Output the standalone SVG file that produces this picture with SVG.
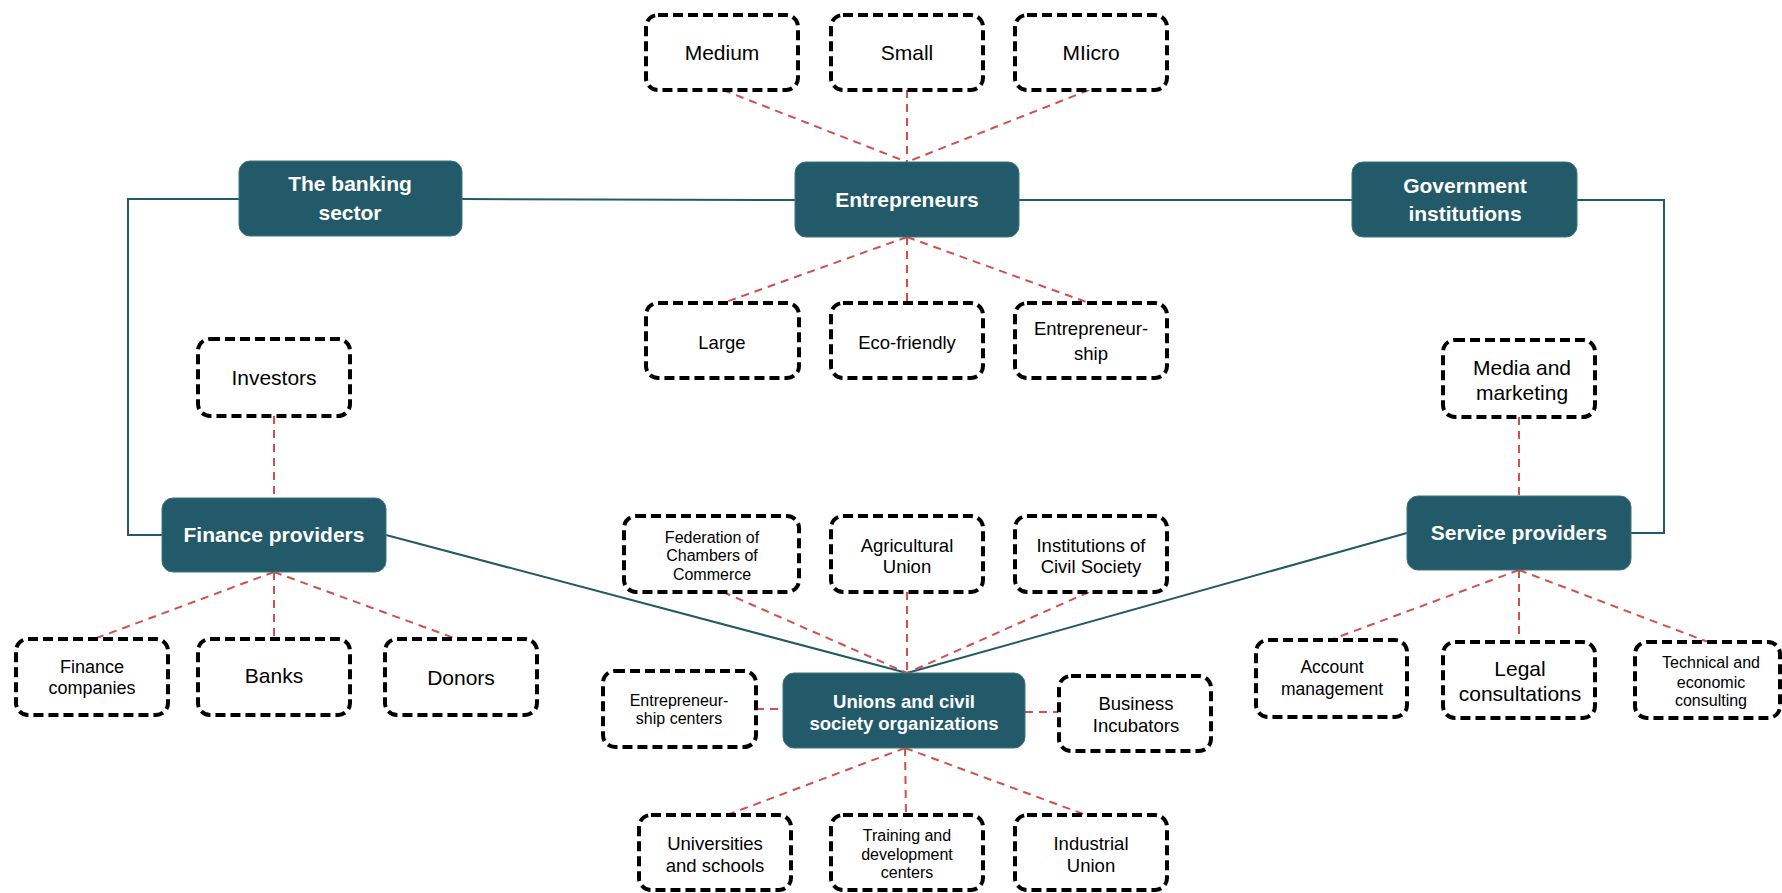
<svg xmlns="http://www.w3.org/2000/svg" width="1782" height="893" viewBox="0 0 1782 893">
<style>
.bg{fill:#ffffff}
.hub rect{fill:#235a69;stroke:#3d7482;stroke-width:1}
.hub text{fill:#ffffff;font-family:"Liberation Sans",Arial,sans-serif;font-weight:bold;text-anchor:middle;dominant-baseline:central}
.leaf rect{fill:#ffffff;stroke:#000000;stroke-width:4;stroke-dasharray:10 5}
.leaf text{fill:#000000;font-family:"Liberation Sans",Arial,sans-serif;text-anchor:middle;dominant-baseline:central}
.solid{fill:none;stroke:#235a69;stroke-width:2}
.dash{fill:none;stroke:#d0504c;stroke-width:2;stroke-dasharray:8 6}
</style>
<rect class="bg" x="0" y="0" width="1782" height="893"/>
<g id="connectors">
  <polyline class="solid" points="462,199 795,200"/>
  <polyline class="solid" points="1019,200 1352,200"/>
  <polyline class="solid" points="239,199 128,199 128,535 162,535"/>
  <polyline class="solid" points="1577,200 1664,200 1664,533 1631,533"/>
  <line class="solid" x1="386" y1="535" x2="907" y2="673"/>
  <line class="solid" x1="1407" y1="533" x2="907" y2="673"/>
  <line class="dash" x1="723" y1="90" x2="907" y2="162"/>
  <line class="dash" x1="907" y1="90" x2="907" y2="162"/>
  <line class="dash" x1="1089" y1="90" x2="907" y2="162"/>
  <line class="dash" x1="907" y1="237" x2="723" y2="303"/>
  <line class="dash" x1="907" y1="237" x2="907" y2="303"/>
  <line class="dash" x1="907" y1="237" x2="1089" y2="303"/>
  <line class="dash" x1="274" y1="416" x2="274" y2="498"/>
  <line class="dash" x1="274" y1="572" x2="94" y2="639"/>
  <line class="dash" x1="274" y1="572" x2="274" y2="639"/>
  <line class="dash" x1="274" y1="572" x2="457" y2="639"/>
  <line class="dash" x1="1519" y1="417" x2="1519" y2="496"/>
  <line class="dash" x1="1519" y1="570" x2="1330" y2="640"/>
  <line class="dash" x1="1519" y1="570" x2="1519" y2="642"/>
  <line class="dash" x1="1519" y1="570" x2="1708" y2="642"/>
  <line class="dash" x1="723" y1="592" x2="907" y2="673"/>
  <line class="dash" x1="907" y1="592" x2="907" y2="673"/>
  <line class="dash" x1="1089" y1="592" x2="907" y2="673"/>
  <line class="dash" x1="905" y1="748" x2="727" y2="815"/>
  <line class="dash" x1="905" y1="748" x2="906" y2="815"/>
  <line class="dash" x1="905" y1="748" x2="1086" y2="815"/>
  <line class="dash" x1="756" y1="709" x2="783" y2="709"/>
  <line class="dash" x1="1025" y1="712" x2="1058" y2="712"/>
</g>
<g id="entrepreneurs" class="hub"><rect x="795" y="162" width="224" height="75" rx="11"/><text x="907" y="199" font-size="21">Entrepreneurs</text></g>
<g id="banking" class="hub"><rect x="239" y="161" width="223" height="75" rx="11"/><text x="350" y="183" font-size="21">The banking</text><text x="350" y="212" font-size="21">sector</text></g>
<g id="government" class="hub"><rect x="1352" y="162" width="225" height="75" rx="11"/><text x="1465" y="185" font-size="21">Government</text><text x="1465" y="213" font-size="21">institutions</text></g>
<g id="finance" class="hub"><rect x="162" y="498" width="224" height="74" rx="11"/><text x="274" y="534" font-size="21">Finance providers</text></g>
<g id="service" class="hub"><rect x="1407" y="496" width="224" height="74" rx="11"/><text x="1519" y="532" font-size="21">Service providers</text></g>
<g id="unions" class="hub"><rect x="783" y="673" width="242" height="75" rx="11"/><text x="904" y="701" font-size="18.5">Unions and civil</text><text x="904" y="723" font-size="18.5">society organizations</text></g>

<g id="medium" class="leaf"><rect x="646" y="15" width="152" height="75" rx="12"/><text x="722" y="52" font-size="21">Medium</text></g>
<g id="small" class="leaf"><rect x="831" y="15" width="152" height="75" rx="12"/><text x="907" y="52" font-size="21">Small</text></g>
<g id="micro" class="leaf"><rect x="1015" y="15" width="152" height="75" rx="12"/><text x="1091" y="52" font-size="21">MIicro</text></g>
<g id="large" class="leaf"><rect x="646" y="303" width="153" height="75" rx="12"/><text x="722" y="342" font-size="18.5">Large</text></g>
<g id="eco" class="leaf"><rect x="831" y="303" width="152" height="75" rx="12"/><text x="907" y="342" font-size="18.5">Eco-friendly</text></g>
<g id="entrepreneurship" class="leaf"><rect x="1015" y="303" width="152" height="75" rx="12"/><text x="1091" y="328" font-size="18.5">Entrepreneur-</text><text x="1091" y="353" font-size="18.5">ship</text></g>
<g id="investors" class="leaf"><rect x="198" y="339" width="152" height="77" rx="12"/><text x="274" y="377" font-size="21">Investors</text></g>
<g id="fincompanies" class="leaf"><rect x="16" y="639" width="152" height="76" rx="12"/><text x="92" y="667" font-size="18">Finance</text><text x="92" y="688" font-size="18">companies</text></g>
<g id="banks" class="leaf"><rect x="198" y="639" width="152" height="76" rx="12"/><text x="274" y="675" font-size="21">Banks</text></g>
<g id="donors" class="leaf"><rect x="385" y="639" width="152" height="76" rx="12"/><text x="461" y="677" font-size="21">Donors</text></g>
<g id="media" class="leaf"><rect x="1443" y="340" width="152" height="77" rx="12"/><text x="1522" y="367" font-size="21">Media and</text><text x="1522" y="392" font-size="21">marketing</text></g>
<g id="account" class="leaf"><rect x="1256" y="640" width="151" height="77" rx="12"/><text x="1332" y="667" font-size="17.5">Account</text><text x="1332" y="689" font-size="17.5">management</text></g>
<g id="legal" class="leaf"><rect x="1443" y="642" width="152" height="76" rx="12"/><text x="1520" y="668" font-size="21">Legal</text><text x="1520" y="693" font-size="21">consultations</text></g>
<g id="technical" class="leaf"><rect x="1635" y="642" width="145" height="76" rx="12"/><text x="1711" y="662" font-size="16">Technical and</text><text x="1711" y="682" font-size="16">economic</text><text x="1711" y="700" font-size="16">consulting</text></g>
<g id="federation" class="leaf"><rect x="624" y="516" width="175" height="76" rx="12"/><text x="712" y="537" font-size="16">Federation of</text><text x="712" y="555" font-size="16">Chambers of</text><text x="712" y="574" font-size="16">Commerce</text></g>
<g id="agricultural" class="leaf"><rect x="831" y="516" width="152" height="76" rx="12"/><text x="907" y="545" font-size="18.5">Agricultural</text><text x="907" y="566" font-size="18.5">Union</text></g>
<g id="institutions" class="leaf"><rect x="1015" y="516" width="152" height="76" rx="12"/><text x="1091" y="545" font-size="18.5">Institutions of</text><text x="1091" y="566" font-size="18.5">Civil Society</text></g>
<g id="entcenters" class="leaf"><rect x="603" y="671" width="153" height="76" rx="12"/><text x="679" y="700" font-size="16">Entrepreneur-</text><text x="679" y="718" font-size="16">ship centers</text></g>
<g id="incubators" class="leaf"><rect x="1059" y="676" width="152" height="75" rx="12"/><text x="1136" y="703" font-size="18.5">Business</text><text x="1136" y="725" font-size="18.5">Incubators</text></g>
<g id="universities" class="leaf"><rect x="639" y="815" width="152" height="75" rx="12"/><text x="715" y="843" font-size="18.5">Universities</text><text x="715" y="865" font-size="18.5">and schools</text></g>
<g id="training" class="leaf"><rect x="831" y="815" width="152" height="75" rx="12"/><text x="907" y="835" font-size="16">Training and</text><text x="907" y="854" font-size="16">development</text><text x="907" y="872" font-size="16">centers</text></g>
<g id="industrial" class="leaf"><rect x="1015" y="815" width="152" height="75" rx="12"/><text x="1091" y="843" font-size="18.5">Industrial</text><text x="1091" y="865" font-size="18.5">Union</text></g>
</svg>
